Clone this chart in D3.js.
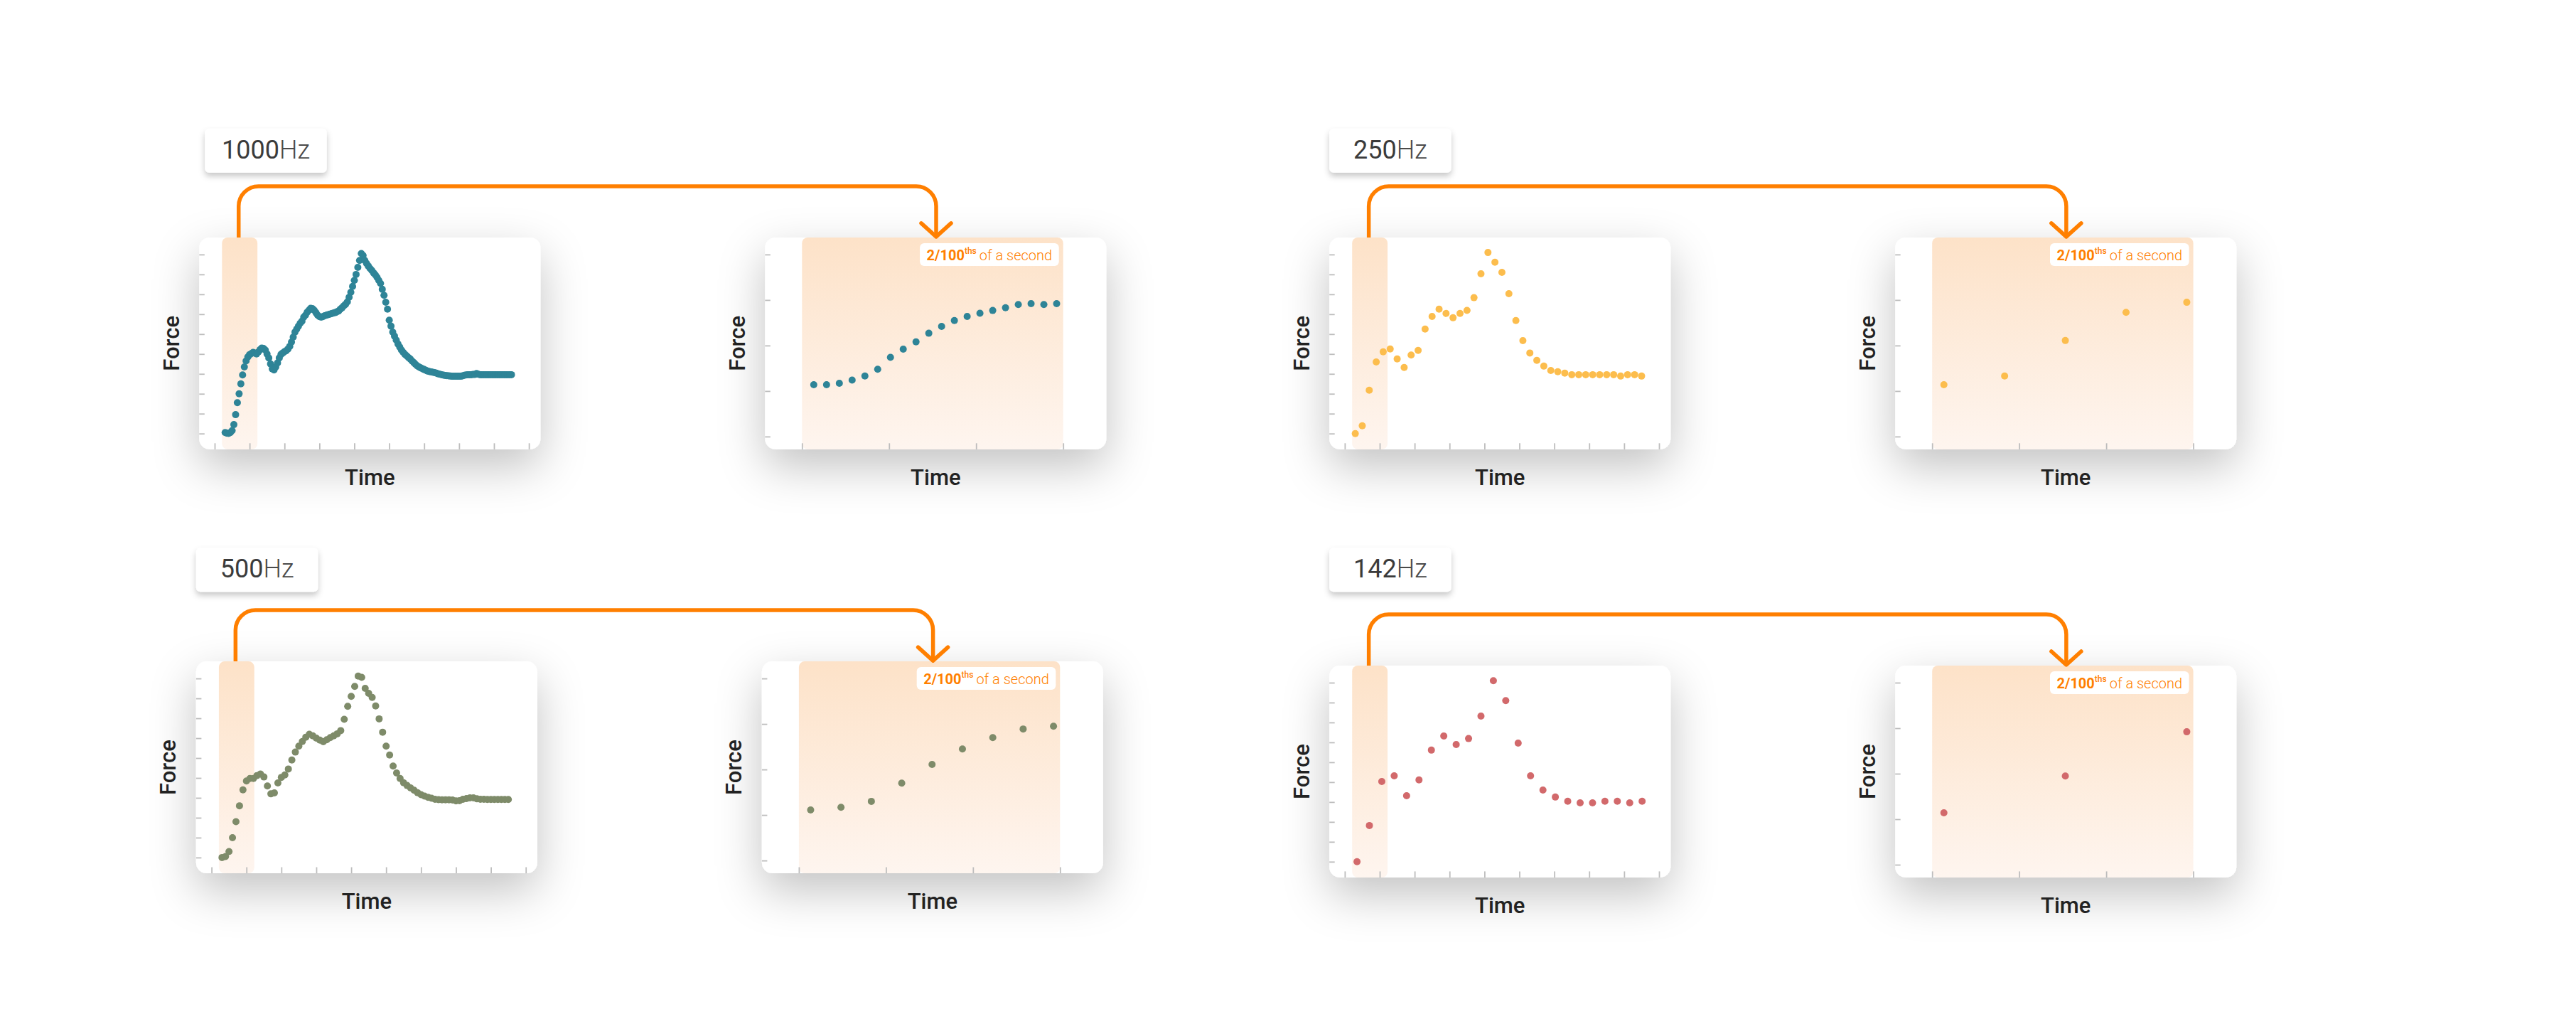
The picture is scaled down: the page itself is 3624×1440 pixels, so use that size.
<!DOCTYPE html>
<html>
<head>
<meta charset="utf-8">
<script src="https://cdn.jsdelivr.net/npm/d3@7"></script>
<style>
  html, body { margin: 0; padding: 0; background: #ffffff; }
  svg { display: block; font-family: Roboto, "Noto Sans", sans-serif; }
</style>
</head>
<body>
<svg id="chart" width="3624" height="1440"></svg>
<script>
// ---------------- DATA ----------------
const rates = ["1000", "250", "500", "142"];
const rateUnit = "Hz";
const axisLabelX = "Time";
const axisLabelY = "Force";
const annotationBold = "2/100";
const annotationSup = "ths";
const annotationRest = "of a second";

// overview time ticks (ms) and force ticks (unlabelled)
const timeTicks = [0, 20, 40, 60, 80, 100, 120, 140, 160, 180];
const forceTicks = [0, 1, 2, 3, 4, 5, 6, 7, 8, 9];
const zoomForceTicks = [0, 1, 2, 3, 4];
const zoomTimeTicks = [0, 20 / 3, 40 / 3, 20];   // ms inside the 2/100 s window
const windowMs = [4.2, 24.5];                   // highlighted window in the overview (ms)

// sampling start (ms) and period (ms) of each series
const start1000 = 6, step1000 = 1;
const start500 = 6, step500 = 2;
const start250 = 6, step250 = 4;
const start142 = 7, step142 = 7.1;

// force
const force1000 = [
  0.05, 0.02, 0.01, 0.05, 0.15, 0.45, 0.95, 1.55, 2.0, 2.5,
  2.95, 3.35, 3.65, 3.85, 3.97, 4.02, 4.08, 4.05, 4.0, 4.1,
  4.22, 4.3, 4.28, 4.2, 4.0, 3.8, 3.5, 3.25, 3.2, 3.35,
  3.55, 3.8, 3.98, 4.05, 4.12, 4.16, 4.25, 4.38, 4.6, 4.85,
  5.1, 5.25, 5.4, 5.55, 5.65, 5.85, 5.95, 6.1, 6.2, 6.3,
  6.28, 6.2, 6.08, 5.95, 5.88, 5.85, 5.88, 5.92, 5.95, 5.98,
  6.0, 6.03, 6.06, 6.08, 6.12, 6.16, 6.25, 6.33, 6.42, 6.5,
  6.62, 6.85, 7.1, 7.4, 7.7, 8.0, 8.35, 8.7, 9.05, 8.95,
  8.7, 8.55, 8.42, 8.3, 8.2, 8.08, 7.98, 7.85, 7.7, 7.55,
  7.25, 6.95, 6.6, 6.25, 5.7, 5.4, 5.1, 4.9, 4.7, 4.5,
  4.35, 4.2, 4.08, 3.98, 3.9, 3.82, 3.75, 3.65, 3.57, 3.48,
  3.4, 3.35, 3.3, 3.26, 3.22, 3.18, 3.14, 3.12, 3.1, 3.08,
  3.06, 3.04, 3.0, 2.98, 2.96, 2.94, 2.92, 2.91, 2.9, 2.89,
  2.88, 2.88, 2.88, 2.88, 2.88, 2.88, 2.9, 2.93, 2.95, 2.96,
  2.96, 2.96, 2.97, 2.97, 3.02, 2.98, 2.96, 2.96, 2.96, 2.96,
  2.96, 2.96, 2.96, 2.96, 2.96, 2.96, 2.96, 2.96, 2.96, 2.96,
  2.96, 2.96, 2.96, 2.96, 2.96
];
const force500 = [
  0.0, 0.05, 0.3, 1.0, 1.8, 2.6, 3.4, 3.85, 3.97, 3.97,
  4.12, 4.2, 4.05, 3.6, 3.2, 3.25, 3.75, 4.03, 4.15, 4.45,
  4.9, 5.3, 5.6, 5.83, 6.05, 6.2, 6.12, 6.0, 5.9, 5.82,
  5.92, 6.03, 6.12, 6.22, 6.38, 6.95, 7.6, 8.1, 8.6, 9.12,
  9.06, 8.5, 8.25, 8.05, 7.62, 6.97, 6.3, 5.6, 5.15, 4.6,
  4.25, 3.97, 3.76, 3.62, 3.5, 3.38, 3.26, 3.16, 3.09, 3.03,
  2.98, 2.93, 2.91, 2.9, 2.9, 2.9, 2.89, 2.85, 2.86, 2.93,
  2.96, 3.0, 3.0, 2.95, 2.93, 2.93, 2.92, 2.92, 2.92, 2.92,
  2.92, 2.92, 2.92
];
const force250 = [
  0.0, 0.39, 2.18, 3.6, 4.11, 4.25, 3.75, 3.32, 3.95, 4.18,
  5.25, 5.89, 6.25, 6.04, 5.82, 6.04, 6.19, 6.83, 8.03, 9.1,
  8.61, 8.1, 7.03, 5.68, 4.67, 4.05, 3.68, 3.39, 3.17, 3.11,
  3.04, 2.96, 2.96, 2.96, 2.96, 2.96, 2.96, 2.96, 2.89, 2.96,
  2.96, 2.89
];
const force142 = [
  0.0, 1.82, 4.03, 4.32, 3.32, 4.11, 5.61, 6.32, 5.89, 6.19,
  7.32, 9.1, 8.1, 5.96, 4.32, 3.6, 3.25, 3.04, 2.96, 2.96,
  3.04, 3.04, 2.96, 3.04
];

const zoom1000 = [1.14, 1.14, 1.17, 1.24, 1.33, 1.48, 1.74, 1.92, 2.08, 2.27,
                  2.42, 2.55, 2.64, 2.71, 2.77, 2.83, 2.90, 2.92, 2.90, 2.92];
const zoom500 = [1.11, 1.17, 1.30, 1.70, 2.11, 2.45, 2.70, 2.89, 2.95];
const zoom250 = [1.14, 1.33, 2.11, 2.73, 2.95];
const zoom142 = [1.14, 1.95, 2.92];

// ---------------- STYLE / LAYOUT ----------------
const seriesColor = { "1000": "#2e8497", "500": "#7e8b69", "250": "#fcbd4d", "142": "#d2696b" };
const ORANGE = "#ff7f00";
const CARD_W = 480, CARD_H = 298, RIGHT_DX = 796;
const layout = {
  "1000": { card: [280.3, 333.9], label: [288.2, 180.7] },
  "250":  { card: [1870.2, 333.9], label: [1870.2, 180.7] },
  "500":  { card: [275.9, 930.1], label: [275.9, 770.3] },
  "142":  { card: [1870.2, 936.0], label: [1870.2, 770.3] }
};
const seriesData = {
  "1000": { values: force1000, t0: start1000, dt: step1000, zoom: zoom1000 },
  "500":  { values: force500,  t0: start500,  dt: step500,  zoom: zoom500 },
  "250":  { values: force250,  t0: start250,  dt: step250,  zoom: zoom250 },
  "142":  { values: force142,  t0: start142,  dt: step142,  zoom: zoom142 }
};

// ---------------- DRAW ----------------
const svg = d3.select("#chart");
const defs = svg.append("defs");

const grad = defs.append("linearGradient").attr("id", "shade")
  .attr("x1", 0).attr("y1", 0).attr("x2", 0).attr("y2", 1);
grad.append("stop").attr("offset", "0%").attr("stop-color", "#fde2c8");
grad.append("stop").attr("offset", "100%").attr("stop-color", "#fef5ef");

const cardShadow = defs.append("filter").attr("id", "cardShadow")
  .attr("x", "-50%").attr("y", "-60%").attr("width", "200%").attr("height", "230%");
cardShadow.append("feDropShadow").attr("dx", 0).attr("dy", 24).attr("stdDeviation", 32)
  .attr("flood-color", "#000").attr("flood-opacity", 0.24);

const labelShadow = defs.append("filter").attr("id", "labelShadow")
  .attr("x", "-30%").attr("y", "-40%").attr("width", "160%").attr("height", "200%");
labelShadow.append("feDropShadow").attr("dx", 0).attr("dy", 5).attr("stdDeviation", 4)
  .attr("flood-color", "#000").attr("flood-opacity", 0.22);

function styleAxis(g) {
  g.select(".domain").remove();
  g.selectAll(".tick line").attr("stroke", "#bdbdbd").attr("stroke-width", 1.8);
  g.selectAll(".tick text").remove();
}

function axisLabels(g, cx, cy) {
  g.append("text")
    .attr("transform", `translate(${cx - 28.5},${cy + CARD_H / 2}) rotate(-90)`)
    .attr("text-anchor", "middle").attr("font-size", 31).attr("font-weight", 500)
    .attr("fill", "#222").text(axisLabelY);
  g.append("text")
    .attr("x", cx + CARD_W / 2).attr("y", cy + CARD_H + 50)
    .attr("text-anchor", "middle").attr("font-size", 31).attr("font-weight", 500)
    .attr("fill", "#222").text(axisLabelX);
}

const layerCards = svg.append("g");
const layerCharts = svg.append("g");
const layerLinks = svg.append("g");
const layerLabels = svg.append("g");

rates.forEach(rate => {
  const L = layout[rate];
  const S = seriesData[rate];
  const color = seriesColor[rate];
  const [cx, cy] = L.card;
  const rcx = cx + RIGHT_DX;

  // cards
  [cx, rcx].forEach(x => {
    layerCards.append("rect")
      .attr("x", x).attr("y", cy).attr("width", CARD_W).attr("height", CARD_H)
      .attr("rx", 15).attr("fill", "#fff").attr("filter", "url(#cardShadow)");
  });

  // ---- overview chart ----
  const g = layerCharts.append("g");
  const xL = d3.scaleLinear().domain([0, 180]).range([cx + 21.7, cx + 463.8]);
  const yL = d3.scaleLinear().domain([0, 9]).range([cy + 275.8, cy + 24]);

  g.append("rect")
    .attr("x", xL(windowMs[0])).attr("y", cy)
    .attr("width", xL(windowMs[1]) - xL(windowMs[0])).attr("height", CARD_H)
    .attr("rx", 8).attr("fill", "url(#shade)");

  g.append("g").attr("transform", `translate(${cx},0)`)
    .call(d3.axisRight(yL).tickValues(forceTicks).tickSize(7.5).tickFormat(""))
    .call(styleAxis);
  g.append("g").attr("transform", `translate(0,${cy + CARD_H})`)
    .call(d3.axisTop(xL).tickValues(timeTicks).tickSize(8.6).tickFormat(""))
    .call(styleAxis);

  g.append("g").selectAll("circle").data(S.values).join("circle")
    .attr("cx", (d, i) => xL(S.t0 + i * S.dt))
    .attr("cy", d => yL(d))
    .attr("r", 5).attr("fill", color);

  axisLabels(g, cx, cy);

  // ---- zoomed chart ----
  const z = layerCharts.append("g");
  const xW = d3.scaleLinear().domain([0, 20]).range([rcx + 52, rcx + 419.4]);
  const yR = d3.scaleLinear().domain([0, 4]).range([cy + 280, cy + 24]);
  const xI = d3.scaleLinear().domain([0, S.zoom.length - 1]).range([xW(0.9), xW(19.5)]);

  z.append("rect")
    .attr("x", xW(0)).attr("y", cy)
    .attr("width", xW(20) - xW(0)).attr("height", CARD_H)
    .attr("rx", 8).attr("fill", "url(#shade)");

  z.append("g").attr("transform", `translate(${rcx},0)`)
    .call(d3.axisRight(yR).tickValues(zoomForceTicks).tickSize(7.5).tickFormat(""))
    .call(styleAxis);
  z.append("g").attr("transform", `translate(0,${cy + CARD_H})`)
    .call(d3.axisTop(xW).tickValues(zoomTimeTicks).tickSize(8.6).tickFormat(""))
    .call(styleAxis);

  // annotation box
  const bw = 195.6, bh = 32;
  const bx = xW(20) - 6 - bw, by = cy + 8;
  z.append("rect").attr("x", bx).attr("y", by).attr("width", bw).attr("height", bh)
    .attr("rx", 6).attr("fill", "#fff");
  const at = z.append("text").attr("x", bx + bw / 2).attr("y", by + 23.8)
    .attr("text-anchor", "middle").attr("fill", ORANGE).attr("font-size", 20);
  at.append("tspan").attr("font-weight", 700).text(annotationBold);
  at.append("tspan").attr("font-weight", 500).attr("font-size", 12).attr("dy", -9).text(annotationSup);
  at.append("tspan").attr("font-weight", 300).attr("dy", 9).attr("dx", 4).text(annotationRest);

  z.append("g").selectAll("circle").data(S.zoom).join("circle")
    .attr("cx", (d, i) => xI(i))
    .attr("cy", d => yR(d))
    .attr("r", 5).attr("fill", color);

  axisLabels(z, rcx, cy);

  // ---- connector ----
  const x1 = (xL(windowMs[0]) + xL(windowMs[1])) / 2 - 1.5;
  const x2 = (xW(0) + xW(20)) / 2 + 5;
  const hy = cy - 72, r = 28;
  const p = d3.path();
  p.moveTo(x1, cy);
  p.lineTo(x1, hy + r);
  p.arcTo(x1, hy, x1 + r, hy, r);
  p.lineTo(x2 - r, hy);
  p.arcTo(x2, hy, x2, hy + r, r);
  p.lineTo(x2, cy - 1);
  layerLinks.append("path").attr("d", p.toString())
    .attr("fill", "none").attr("stroke", ORANGE).attr("stroke-width", 5.5);
  const a = d3.path();
  a.moveTo(x2 - 21, cy - 20);
  a.lineTo(x2, cy - 1);
  a.lineTo(x2 + 21, cy - 20);
  layerLinks.append("path").attr("d", a.toString())
    .attr("fill", "none").attr("stroke", ORANGE).attr("stroke-width", 5.5)
    .attr("stroke-linecap", "round").attr("stroke-linejoin", "round");

  // ---- rate label ----
  const [lx, ly] = L.label;
  layerLabels.append("rect").attr("x", lx).attr("y", ly).attr("width", 171.5).attr("height", 62)
    .attr("rx", 6).attr("fill", "#fff").attr("filter", "url(#labelShadow)");
  const lt = layerLabels.append("text").attr("x", lx + 171.5 / 2).attr("y", ly + 42)
    .attr("text-anchor", "middle").attr("font-size", 36);
  lt.append("tspan").attr("font-weight", 400).attr("fill", "#3b3b3b").text(rate);
  lt.append("tspan").attr("font-weight", 300).attr("fill", "#4a4a4a").text(rateUnit);
});
</script>
</body>
</html>
